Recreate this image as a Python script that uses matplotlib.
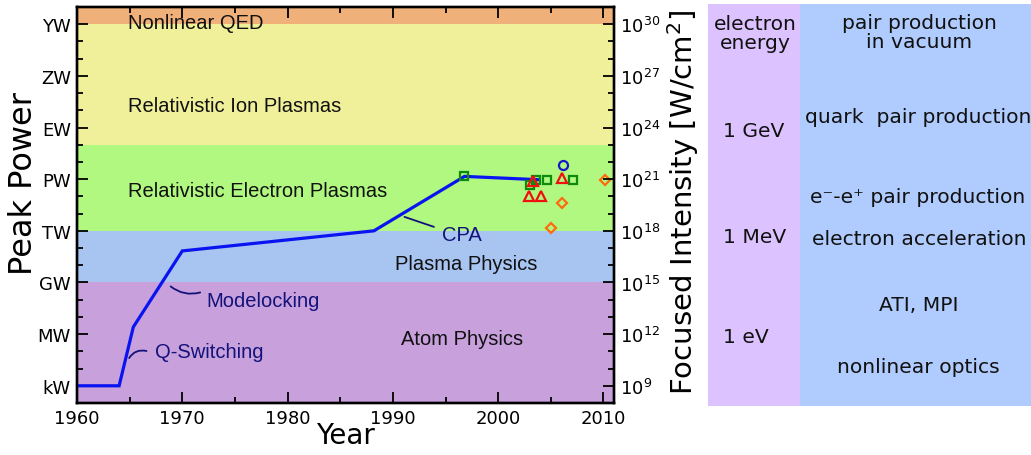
import matplotlib
matplotlib.use('Agg')
import matplotlib.pyplot as plt
from matplotlib.ticker import FixedLocator, FixedFormatter, LogLocator, NullFormatter, MultipleLocator
from matplotlib.patches import Rectangle

# ---- data -------------------------------------------------------------
trend_years = [1960, 1964.0, 1965.35, 1970.0, 1988.2, 1996.8, 2003.9]
trend_power = [1e3, 1e3, 2.6e6, 6.8e10, 1e12, 1.45e15, 0.93e15]

square_years = [1996.8, 2003.6, 2004.6, 2003.0, 2007.1]
square_power = [1.45e15, 0.92e15, 0.92e15, 0.45e15, 0.92e15]
triangle_years = [2003.3, 2002.9, 2004.1, 2006.1]
triangle_power = [0.74e15, 1.1e14, 1.1e14, 1.1e15]
circle_years = [2006.2]
circle_power = [6.8e15]
diamond_years = [2010.1, 2006.1, 2005.0]
diamond_power = [0.95e15, 4.0e13, 1.45e12]

band_edges = [1e2, 1e9, 1e12, 1e17, 1e24, 1e25]
band_names = ['Atom Physics', 'Plasma Physics', 'Relativistic Electron Plasmas',
              'Relativistic Ion Plasmas', 'Nonlinear QED']
band_colors = ['#C8A0DC', '#A8C4F0', '#B0F880', '#F0F09B', '#F0B07A']

power_ticks = [1e3, 1e6, 1e9, 1e12, 1e15, 1e18, 1e21, 1e24]
power_labels = ['kW', 'MW', 'GW', 'TW', 'PW', 'EW', 'ZW', 'YW']
intensity_per_power = 1e6   # W/cm^2 per W of peak power

energy_labels = ['electron\nenergy', '1 GeV', '1 MeV', '1 eV']
process_labels = ['pair production\nin vacuum', 'quark  pair production',
                  'e\u207b-e\u207a pair production', 'electron acceleration',
                  'ATI, MPI', 'nonlinear optics']

annotation_labels = ['Q-Switching', 'Modelocking', 'CPA']

# ---- figure -----------------------------------------------------------
W, H = 1031, 456
fig = plt.figure(figsize=(W / 100, H / 100), dpi=100)
fig.patch.set_facecolor('white')

ax = fig.add_axes([77 / W, (H - 404) / H, 537 / W, 396 / H])
ax.set_yscale('log')
ax.set_xlim(1960, 2011)
ax.set_ylim(band_edges[0], band_edges[-1])

# coloured regimes
for lo, hi, c in zip(band_edges[:-1], band_edges[1:], band_colors):
    ax.axhspan(lo, hi, color=c, lw=0, zorder=0)

band_font = dict(family='Liberation Sans', fontsize=14.5, color='#111111', va='center')
ax.text(1964.85, 10**24.12, band_names[4], **band_font)
ax.text(1964.85, 10**19.27, band_names[3], **band_font)
ax.text(1964.85, 10**14.37, band_names[2], **band_font)
ax.text(1990.2, 10**10.1, band_names[1], **band_font)
ax.text(1990.8, 10**5.77, band_names[0], **band_font)

# trend line and individual systems
ax.plot(trend_years, trend_power, color='#0A14F0', lw=2.3, zorder=3,
        solid_joinstyle='miter')
mk = dict(ls='none', mfc='none', mew=1.6, zorder=4)
ax.plot(square_years, square_power, marker='s', ms=5.8, mec='#0E8A0E', **mk)
ax.plot(triangle_years, triangle_power, marker='^', ms=7, mec='#F01010', **mk)
ax.plot(circle_years, circle_power, marker='o', ms=6.5, mec='#1818C8', **mk)
ax.plot(diamond_years, diamond_power, marker='D', ms=5.3, mec='#FF6A10', **mk)

# technique annotations
navy = '#12127A'
ann_font = dict(family='Liberation Sans', fontsize=14.5, color=navy, va='center')
ax.text(1967.4, 10**5.02, annotation_labels[0], **ann_font)
ax.text(1972.3, 10**7.96, annotation_labels[1], **ann_font)
ax.text(1994.7, 10**11.77, annotation_labels[2], **ann_font)
lead = dict(arrowstyle='-', color=navy, lw=1.3, shrinkA=0, shrinkB=0)
ax.annotate('', xy=(1966.6, 10**5.02), xytext=(1964.95, 10**4.61),
            arrowprops=dict(connectionstyle='arc3,rad=-0.35', **lead))
ax.annotate('', xy=(1971.7, 10**8.42), xytext=(1968.9, 10**8.77),
            arrowprops=dict(connectionstyle='arc3,rad=0.25', **lead))
ax.annotate('', xy=(1993.9, 10**12.23), xytext=(1991.1, 10**12.81),
            arrowprops=dict(connectionstyle='arc3,rad=0.0', **lead))

# axes styling
for s in ax.spines.values():
    s.set_linewidth(1.7)
ax.xaxis.set_major_locator(MultipleLocator(10))
ax.xaxis.set_minor_locator(MultipleLocator(5))
ax.yaxis.set_major_locator(FixedLocator(power_ticks))
ax.yaxis.set_major_formatter(FixedFormatter(power_labels))
ax.yaxis.set_minor_locator(LogLocator(base=10, subs=(1.0,), numticks=40))
ax.yaxis.set_minor_formatter(NullFormatter())
ax.tick_params(which='both', direction='in', top=True, right=False,
               labelsize=13, width=1.3, colors='black')
ax.tick_params(which='major', length=8, pad=4.5)
ax.tick_params(which='minor', length=4.5)
ax.set_xlabel('Year', fontsize=20)
ax.xaxis.set_label_coords(0.5, -0.045)
ax.set_ylabel('Peak Power', fontsize=23)
ax.yaxis.set_label_coords(-0.070, 0.556)

# intensity axis
ax2 = ax.twinx()
ax2.set_yscale('log')
ax2.set_ylim(band_edges[0] * intensity_per_power, band_edges[-1] * intensity_per_power)
ax2.yaxis.set_major_locator(FixedLocator([p * intensity_per_power for p in power_ticks]))
ax2.yaxis.set_minor_locator(LogLocator(base=10, subs=(1.0,), numticks=40))
ax2.yaxis.set_minor_formatter(NullFormatter())
ax2.tick_params(which='both', direction='in', labelsize=13, width=1.3)
ax2.tick_params(which='major', length=8, pad=4.5)
ax2.tick_params(which='minor', length=4.5)
for s in ax2.spines.values():
    s.set_linewidth(1.7)
ax2.set_ylabel('Focused Intensity [W/cm$^2$]', fontsize=21)
ax2.yaxis.set_label_coords(1.096, 0.51)

# side table of energies and processes (drawn in pixel coordinates)
side = fig.add_axes([0, 0, 1, 1], facecolor='none')
side.set_xlim(0, W)
side.set_ylim(H, 0)
side.axis('off')
side.add_patch(Rectangle((708, 5), 92, 402, color='#DCC2FE', lw=0))
side.add_patch(Rectangle((800, 5), 240, 402, color='#B0CCFE', lw=0))
tf = dict(family='DejaVu Sans', fontsize=14.6, color='#111111')
side.text(755, 34, energy_labels[0], ha='center', va='center', linespacing=0.95, **tf)
side.text(723, 132, energy_labels[1], ha='left', va='center', **tf)
side.text(723, 238, energy_labels[2], ha='left', va='center', **tf)
side.text(723, 338, energy_labels[3], ha='left', va='center', **tf)
side.text(919, 33, process_labels[0], ha='center', va='center', linespacing=0.95, **tf)
side.text(805, 118, process_labels[1], ha='left', va='center', **tf)
side.text(918, 198, process_labels[2], ha='center', va='center', **tf)
side.text(919, 240, process_labels[3], ha='center', va='center', **tf)
side.text(919, 306, process_labels[4], ha='center', va='center', **tf)
side.text(918, 368, process_labels[5], ha='center', va='center', **tf)

fig.savefig('out.png', dpi=100)
